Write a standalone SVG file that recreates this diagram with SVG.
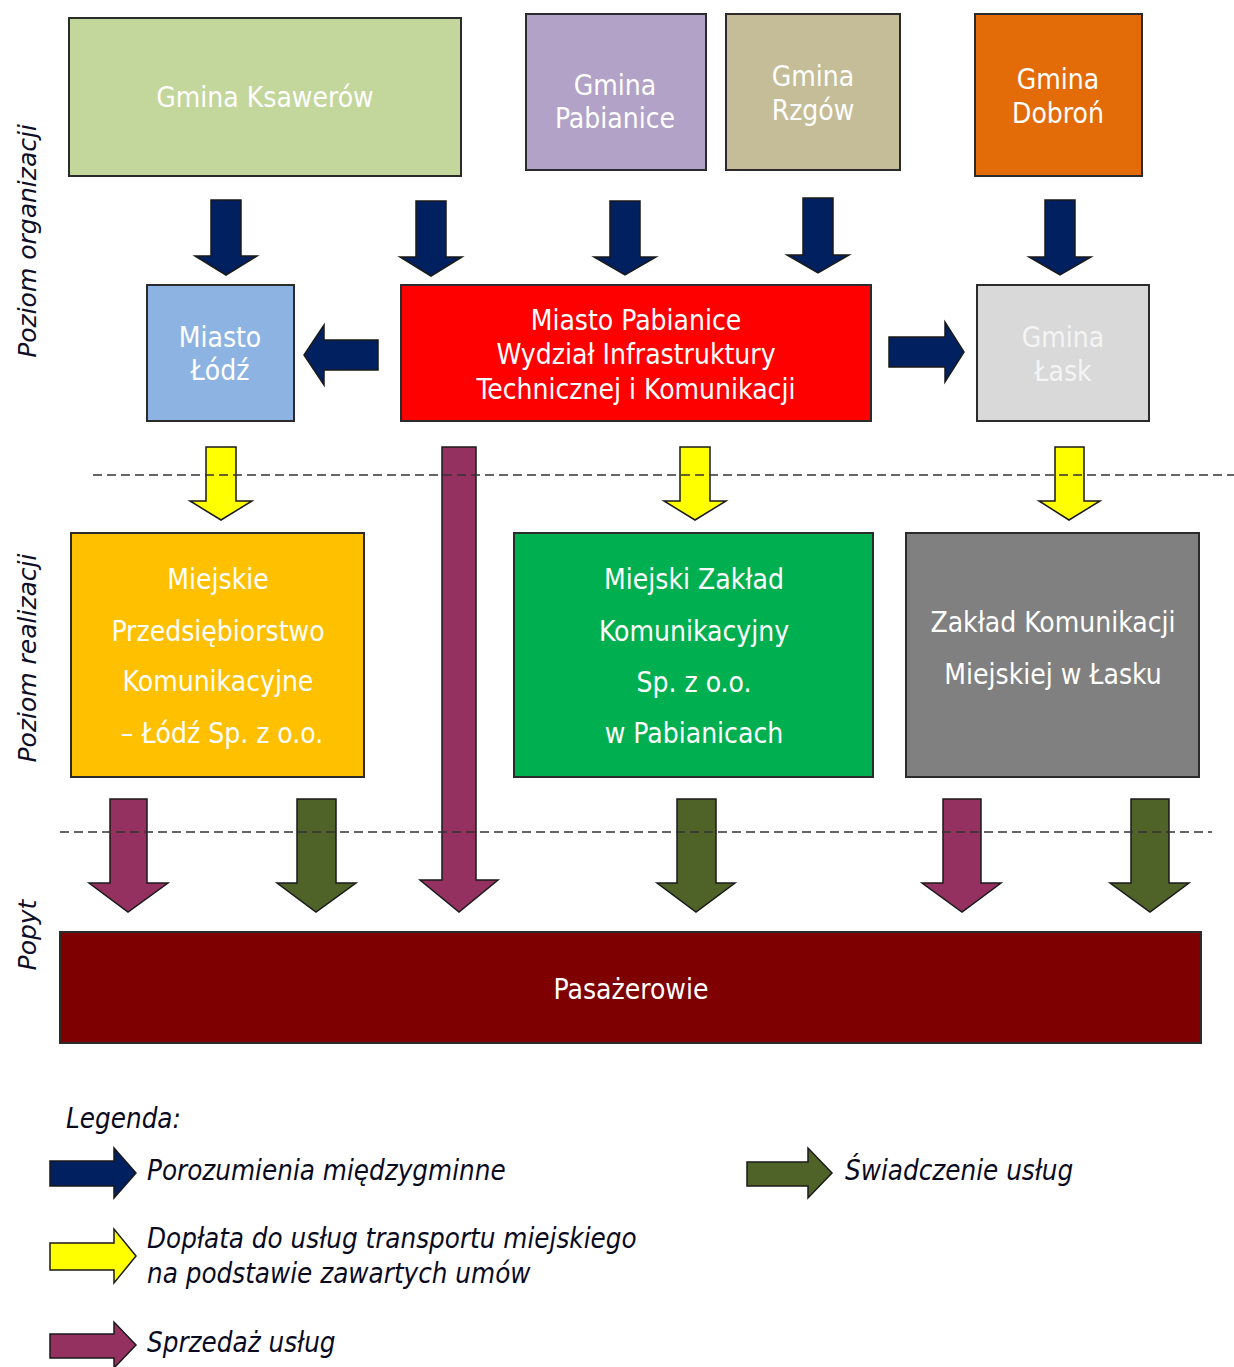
<svg xmlns="http://www.w3.org/2000/svg" width="1234" height="1367" viewBox="0 0 1234 1367">
<style>
.box{stroke:#2b2b2b;stroke-width:2}
.t{font-family:"DejaVu Sans Condensed","DejaVu Sans",sans-serif;font-size:28px;fill:#ffffff;text-anchor:middle}
.side{font-family:"DejaVu Sans","Liberation Sans",sans-serif;font-style:italic;font-size:25px;fill:#0e0e28;text-anchor:middle}
.leg{font-family:"DejaVu Sans Condensed","DejaVu Sans",sans-serif;font-style:italic;font-size:27.5px;fill:#0a0a1e}
.ar{stroke:#1a1a1a;stroke-width:1.5;stroke-linejoin:miter}
.navy{fill:#002060}.yel{fill:#ffff00}.pur{fill:#953160}.grn{fill:#4f6228}
.dash{stroke:#333;stroke-width:1.6;stroke-dasharray:9 5;fill:none}
</style>
<rect width="1234" height="1367" fill="#ffffff"/>
<g id="labels">
<text class="side" transform="translate(36,241) rotate(-90)">Poziom organizacji</text>
<text class="side" transform="translate(36,658) rotate(-90)">Poziom realizacji</text>
<text class="side" transform="translate(36,935) rotate(-90)">Popyt</text>
</g>
<g id="n-ksawerow"><rect class="box" x="69" y="18" width="392" height="158" fill="#c3d69b"/><text class="t" x="265" y="107">Gmina Ksawerów</text></g>
<g id="n-gpabianice"><rect class="box" x="526" y="14" width="180" height="156" fill="#b2a2c7"/><text class="t" x="615" y="95">Gmina</text><text class="t" x="615" y="128">Pabianice</text></g>
<g id="n-rzgow"><rect class="box" x="726" y="14" width="174" height="156" fill="#c4bd97"/><text class="t" x="813" y="86">Gmina</text><text class="t" x="813" y="120">Rzgów</text></g>
<g id="n-dobron"><rect class="box" x="975" y="14" width="167" height="162" fill="#e36c09"/><text class="t" x="1058" y="89">Gmina</text><text class="t" x="1058" y="123">Dobroń</text></g>
<g id="n-lodz"><rect class="box" x="147" y="285" width="147" height="136" fill="#8db3e2"/><text class="t" x="220" y="347">Miasto</text><text class="t" x="220" y="380">Łódź</text></g>
<g id="n-mpabianice"><rect class="box" x="401" y="285" width="470" height="136" fill="#ff0000"/><text class="t" x="636" y="330">Miasto Pabianice</text><text class="t" x="636" y="364">Wydział Infrastruktury</text><text class="t" x="636" y="399">Technicznej i Komunikacji</text></g>
<g id="n-lask"><rect class="box" x="977" y="285" width="172" height="136" fill="#d9d9d9"/><text class="t" x="1063" y="347" style="fill:#f4f4f4">Gmina</text><text class="t" x="1063" y="381" style="fill:#f4f4f4">Łask</text></g>
<g id="n-mpk"><rect class="box" x="71" y="533" width="293" height="244" fill="#ffc000"/><text class="t" x="218" y="589">Miejskie</text><text class="t" x="218" y="641">Przedsiębiorstwo</text><text class="t" x="218" y="691">Komunikacyjne</text><text class="t" x="222" y="743">– Łódź Sp. z o.o.</text></g>
<g id="n-mzk"><rect class="box" x="514" y="533" width="359" height="244" fill="#00b050"/><text class="t" x="694" y="589">Miejski Zakład</text><text class="t" x="694" y="641">Komunikacyjny</text><text class="t" x="694" y="692">Sp. z o.o.</text><text class="t" x="694" y="743">w Pabianicach</text></g>
<g id="n-zkm"><rect class="box" x="906" y="533" width="293" height="244" fill="#808080"/><text class="t" x="1053" y="632">Zakład Komunikacji</text><text class="t" x="1053" y="684">Miejskiej w Łasku</text></g>
<g id="n-pasazerowie"><rect class="box" x="60" y="932" width="1141" height="111" fill="#7f0000"/><text class="t" x="631" y="999">Pasażerowie</text></g>
<g id="connectors">
<polygon class="ar navy" points="211,200 241,200 241,256 257,256 226,275 195,256 211,256"/>
<polygon class="ar navy" points="416,201 446,201 446,257 462,257 431,276 400,257 416,257"/>
<polygon class="ar navy" points="610,201 640,201 640,257 656,257 625,275 594,257 610,257"/>
<polygon class="ar navy" points="803,198 833,198 833,255 849,255 818,273 787,255 803,255"/>
<polygon class="ar navy" points="1045,200 1075,200 1075,257 1091,257 1060,275 1029,257 1045,257"/>
<polygon class="ar navy" points="378,340 324,340 324,325 304,355 324,385 324,370 378,370"/>
<polygon class="ar navy" points="889,337 945,337 945,322 964,352 945,382 945,367 889,367"/>
<polygon class="ar yel" points="206,447 236,447 236,501 252,501 221,520 190,501 206,501"/>
<polygon class="ar yel" points="680,447 710,447 710,501 726,501 695,520 664,501 680,501"/>
<polygon class="ar yel" points="1055,447 1084,447 1084,501 1100,501 1069,520 1039,501 1055,501"/>
<polygon class="ar pur" points="442,447 476,447 476,880 498,880 459,912 420,880 442,880"/>
<polygon class="ar pur" points="110,799 147,799 147,883 168,883 128,912 89,883 110,883"/>
<polygon class="ar grn" points="297,799 336,799 336,883 356,883 316,912 277,883 297,883"/>
<polygon class="ar grn" points="677,799 716,799 716,883 735,883 696,912 657,883 677,883"/>
<polygon class="ar pur" points="943,799 981,799 981,883 1001,883 962,912 922,883 943,883"/>
<polygon class="ar grn" points="1131,799 1169,799 1169,883 1189,883 1150,912 1110,883 1131,883"/>
</g>
<g id="separators">
<line class="dash" x1="93" y1="475" x2="1234" y2="475"/>
<line class="dash" x1="60" y1="832" x2="1212" y2="832"/>
</g>
<g id="legend">
<text class="leg" x="66" y="1128">Legenda:</text>
<polygon class="ar navy" points="50,1161 114,1161 114,1148 136,1173 114,1198 114,1186 50,1186"/>
<text class="leg" x="147" y="1180">Porozumienia międzygminne</text>
<polygon class="ar yel" points="50,1243 114,1243 114,1229 136,1256 114,1283 114,1270 50,1270"/>
<text class="leg" x="147" y="1248">Dopłata do usług transportu miejskiego</text>
<text class="leg" x="147" y="1283">na podstawie zawartych umów</text>
<polygon class="ar pur" points="50,1334 114,1334 114,1322 136,1345 114,1368 114,1358 50,1358"/>
<text class="leg" x="147" y="1352">Sprzedaż usług</text>
<polygon class="ar grn" points="747,1162 808,1162 808,1148 832,1173 808,1198 808,1186 747,1186"/>
<text class="leg" x="845" y="1180">Świadczenie usług</text>
</g>
</svg>
